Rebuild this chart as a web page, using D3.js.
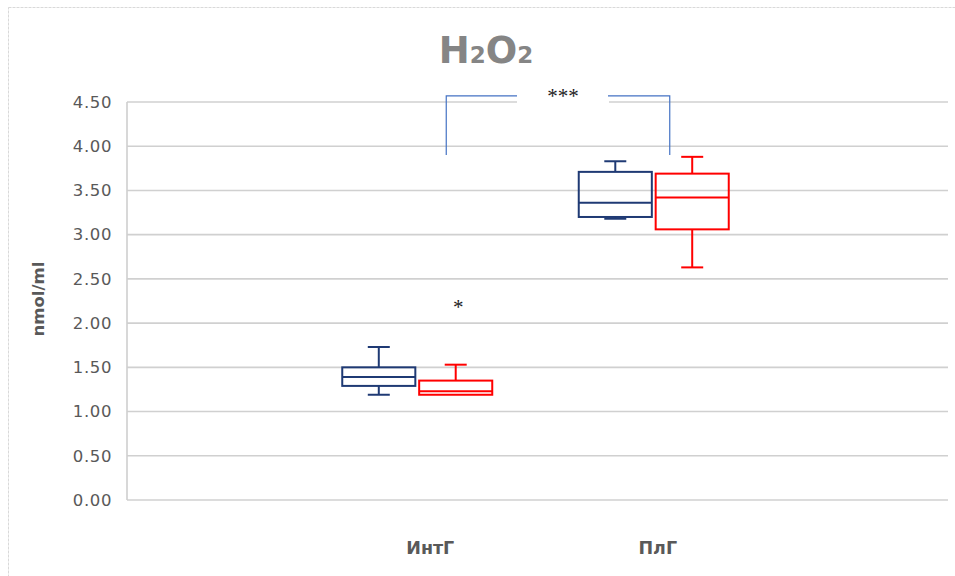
<!DOCTYPE html>
<html>
<head>
<meta charset="utf-8">
<script src="https://cdn.jsdelivr.net/npm/d3@7"></script>
<style>
  html, body { margin: 0; padding: 0; background: #ffffff; }
  svg { display: block; }
</style>
</head>
<body>
<svg id="chart" width="955" height="576"></svg>
<script>
// Groups on the x axis and the two series drawn in each group
const categories = ["ИнтГ", "ПлГ"];
const seriesNames = ["s1", "s2"];
const seriesColors = ["#1f3a74", "#ff0000"];

// Five-number summaries: [min, q1, median, q3, max] for each group
const series1Stats = [
  [1.19, 1.29, 1.39, 1.50, 1.73],
  [3.18, 3.20, 3.36, 3.71, 3.83]
];
const series2Stats = [
  [1.19, 1.19, 1.23, 1.35, 1.53],
  [2.63, 3.06, 3.42, 3.69, 3.88]
];

const yTicks = [0, 0.5, 1, 1.5, 2, 2.5, 3, 3.5, 4, 4.5];
const yLabel = "nmol/ml";

// Significance marks
const bracketTop = 4.57, bracketBottom = 3.90;
const bracketText = "***";
const groupMarkValue = 2.18;
const groupMarkText = "*";

const svg = d3.select("#chart");
const W = 955, H = 576;

// Outer chart frame
svg.append("rect")
  .attr("x", 8.5).attr("y", 7.5)
  .attr("width", W + 20).attr("height", H + 20)
  .attr("fill", "#ffffff")
  .attr("stroke", "#d9d9d9")
  .attr("stroke-width", 1)
  .attr("stroke-dasharray", "3,1");

const plot = { left: 127, right: 948, top: 102, bottom: 500 };

const y = d3.scaleLinear().domain([0, 4.5]).range([plot.bottom, plot.top]);
const x = d3.scaleBand().domain(categories).range([299, 772]);
const sub = d3.scaleBand().domain(seriesNames).range([-75, 75]).paddingInner(0.05);

// Gridlines
svg.append("g")
  .selectAll("line")
  .data(yTicks)
  .join("line")
  .attr("x1", plot.left).attr("x2", plot.right)
  .attr("y1", d => y(d)).attr("y2", d => y(d))
  .attr("stroke", "#d0d0d0")
  .attr("stroke-width", 1.6);

// Left axis line
svg.append("line")
  .attr("x1", plot.left).attr("x2", plot.left)
  .attr("y1", plot.top).attr("y2", plot.bottom)
  .attr("stroke", "#cfcfcf").attr("stroke-width", 1.6);

// Y axis tick labels
const yAxis = d3.axisLeft(y).tickValues(yTicks).tickFormat(d3.format(".2f")).tickSize(0).tickPadding(15);
const yG = svg.append("g").attr("transform", `translate(${plot.left},0)`).call(yAxis);
yG.select(".domain").remove();
yG.selectAll("text")
  .attr("font-family", "DejaVu Sans, sans-serif")
  .attr("font-size", 16.5)
  .attr("letter-spacing", 0.6)
  .attr("fill", "#595959");

// Y axis title
svg.append("text")
  .attr("transform", "translate(44,299) rotate(-90)")
  .attr("text-anchor", "middle")
  .attr("font-family", "DejaVu Sans, sans-serif")
  .attr("font-weight", "bold")
  .attr("font-size", 16.5)
  .attr("fill", "#595959")
  .text(yLabel);

// X axis category labels
const xAxis = d3.axisBottom(x).tickSize(0).tickPadding(0);
const xG = svg.append("g").attr("transform", `translate(8,542)`).call(xAxis);
xG.select(".domain").remove();
xG.selectAll("text")
  .attr("font-family", "DejaVu Sans, sans-serif")
  .attr("font-weight", "bold")
  .attr("font-size", 17.5)
  .attr("fill", "#595959")
  .attr("dx", (d, i) => (i === 0 ? 5 : -4));

// Title with subscripts
const title = svg.append("text")
  .attr("x", 486).attr("y", 63)
  .attr("text-anchor", "middle")
  .attr("font-family", "DejaVu Sans, sans-serif")
  .attr("font-weight", "bold")
  .attr("font-size", 37)
  .attr("fill", "#858585");
title.append("tspan").text("H");
title.append("tspan").attr("font-size", 23).text("2");
title.append("tspan").text("O");
title.append("tspan").attr("font-size", 23).text("2");

// Box plots
const boxData = [];
categories.forEach((c, i) => {
  boxData.push({ cat: c, s: "s1", color: seriesColors[0], v: series1Stats[i] });
  boxData.push({ cat: c, s: "s2", color: seriesColors[1], v: series2Stats[i] });
});

const capW = 22;
const boxes = svg.append("g").selectAll("g")
  .data(boxData)
  .join("g")
  .attr("transform", d => `translate(${x(d.cat) + x.bandwidth() / 2 + sub(d.s)},0)`)
  .attr("stroke", d => d.color)
  .attr("stroke-width", 2)
  .attr("fill", "none");

boxes.each(function (d) {
  const g = d3.select(this);
  const bw = sub.bandwidth();
  const cx = bw / 2;
  const [mn, q1, md, q3, mx] = d.v;
  // whiskers
  g.append("line").attr("x1", cx).attr("x2", cx).attr("y1", y(mx)).attr("y2", y(q3));
  g.append("line").attr("x1", cx - capW / 2).attr("x2", cx + capW / 2).attr("y1", y(mx)).attr("y2", y(mx));
  if (mn < q1) {
    g.append("line").attr("x1", cx).attr("x2", cx).attr("y1", y(q1)).attr("y2", y(mn));
    g.append("line").attr("x1", cx - capW / 2).attr("x2", cx + capW / 2).attr("y1", y(mn)).attr("y2", y(mn));
  }
  // box and median
  g.append("rect").attr("x", 0).attr("width", bw)
    .attr("y", y(q3)).attr("height", y(q1) - y(q3));
  g.append("line").attr("x1", 0).attr("x2", bw).attr("y1", y(md)).attr("y2", y(md));
});

// Significance bracket between the groups
const bx1 = x("ИнтГ") + x.bandwidth() / 2 + 29;
const bx2 = x("ПлГ") + x.bandwidth() / 2 + 16;
const midX = (bx1 + bx2) / 2 + 5;
svg.append("rect")
  .attr("x", midX - 46).attr("y", y(bracketTop) - 12)
  .attr("width", 92).attr("height", 22)
  .attr("fill", "#ffffff");
const bracketColor = "#4472c4";
svg.append("path")
  .attr("d", `M${bx1},${y(bracketBottom)}V${y(bracketTop)}H${midX - 46}`)
  .attr("fill", "none").attr("stroke", bracketColor).attr("stroke-width", 1.2);
svg.append("path")
  .attr("d", `M${midX + 45},${y(bracketTop)}H${bx2}V${y(bracketBottom)}`)
  .attr("fill", "none").attr("stroke", bracketColor).attr("stroke-width", 1.2);
svg.append("text")
  .attr("x", midX).attr("y", y(bracketTop) + 7)
  .attr("text-anchor", "middle")
  .attr("font-family", "Liberation Serif, serif")
  .attr("font-size", 21)
  .attr("fill", "#222222")
  .text(bracketText);

svg.append("text")
  .attr("x", x("ИнтГ") + x.bandwidth() / 2 + 41).attr("y", y(groupMarkValue) + 7)
  .attr("text-anchor", "middle")
  .attr("font-family", "Liberation Serif, serif")
  .attr("font-size", 21)
  .attr("fill", "#222222")
  .text(groupMarkText);
</script>
</body>
</html>
